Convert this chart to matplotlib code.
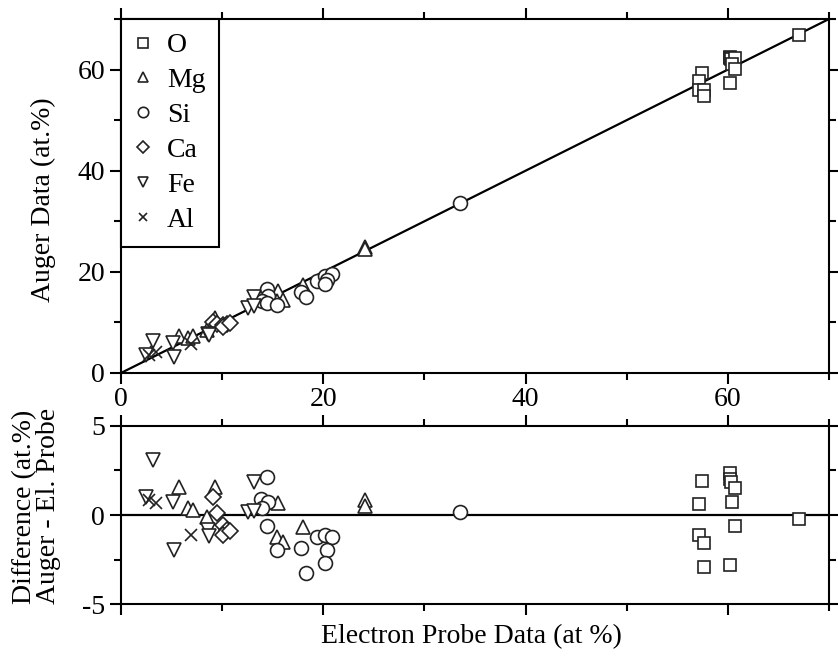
import matplotlib
matplotlib.use('Agg')
import matplotlib.pyplot as plt
from matplotlib.ticker import MultipleLocator
import numpy as np

# electron probe values (x) and Auger - electron probe differences (at.%)
ep_o = [57.4, 57.1, 57.1, 57.6, 57.6, 60.2, 60.2, 60.3, 60.7, 60.4, 60.7, 60.2, 67.0]
diff_o = [1.9, 0.6, -1.1, -1.6, -2.9, 2.35, 2.0, 1.85, 1.5, 0.75, -0.6, -2.8, -0.2]

ep_mg = [5.7, 6.6, 7.1, 9.3, 8.5, 15.5, 15.4, 16.0, 18.0, 24.1, 24.1]
diff_mg = [1.6, 0.4, 0.3, 1.55, -0.1, 0.65, -1.25, -1.5, -0.65, 0.85, 0.5]

ep_si = [14.4, 13.8, 14.5, 13.9, 14.4, 15.4, 17.8, 18.3, 19.4, 20.2, 20.9, 20.4, 20.2, 33.5]
diff_si = [2.15, 0.9, 0.75, 0.4, -0.6, -1.95, -1.85, -3.25, -1.25, -1.1, -1.25, -1.95, -2.7, 0.15]

ep_ca = [9.1, 9.5, 10.1, 10.5, 10.1, 10.8]
diff_ca = [1.0, 0.1, -0.55, -0.85, -1.1, -0.9]

ep_fe = [3.2, 2.5, 5.1, 5.2, 8.6, 8.7, 13.1, 12.6, 13.1]
diff_fe = [3.1, 1.0, 0.75, -1.95, -0.85, -1.2, 1.85, 0.15, 0.2]

ep_al = [2.8, 3.5, 6.9]
diff_al = [0.85, 0.7, -1.1]

elements = ['O', 'Mg', 'Si', 'Ca', 'Fe', 'Al']
ep_values = [ep_o, ep_mg, ep_si, ep_ca, ep_fe, ep_al]
diff_values = [diff_o, diff_mg, diff_si, diff_ca, diff_fe, diff_al]
markers = ['s', '^', 'o', 'D', 'v', 'x']
msizes = [9, 10, 10, 8.5, 10, 8]   # marker size per element

plt.rcParams['font.family'] = ['Liberation Serif', 'DejaVu Serif']
plt.rcParams['font.size'] = 20
plt.rcParams['axes.unicode_minus'] = False
plt.rcParams['axes.linewidth'] = 1.5

fig = plt.figure(figsize=(8.38, 6.62), dpi=100)
ax1 = fig.add_axes([0.1444, 0.4366, 0.8449, 0.5347])
ax2 = fig.add_axes([0.1444, 0.0876, 0.8449, 0.2689])

ink = '#222222'
for name, ep, d, m, ms in zip(elements, ep_values, diff_values, markers, msizes):
    ep = np.array(ep)
    d = np.array(d)
    auger = ep + d
    style = dict(linestyle='none', marker=m, markersize=ms, markerfacecolor='white',
                 markeredgecolor=ink, markeredgewidth=1.2, color=ink)
    if m == 'x':
        style['markerfacecolor'] = ink
    ax1.plot(ep, auger, label=name, **style)
    ax2.plot(ep, d, **style)

ax1.plot([0, 70], [0, 70], color='black', linewidth=1.6, zorder=1)
ax2.axhline(0, color='black', linewidth=1.6, zorder=1)

ax1.set_xlim(0, 70)
ax1.set_ylim(0, 70)
ax2.set_xlim(0, 70)
ax2.set_ylim(-5, 5)

for ax in (ax1, ax2):
    ax.xaxis.set_major_locator(MultipleLocator(20))
    ax.xaxis.set_minor_locator(MultipleLocator(10))
    ax.tick_params(which='both', direction='out', top=True, right=True, width=1.5)
    ax.tick_params(which='major', length=8)
    ax.tick_params(which='minor', length=5)
ax1.yaxis.set_major_locator(MultipleLocator(20))
ax1.yaxis.set_minor_locator(MultipleLocator(10))
ax2.yaxis.set_major_locator(MultipleLocator(5))
ax2.yaxis.set_minor_locator(MultipleLocator(2.5))
ax2.tick_params(labelbottom=False)
ax1.tick_params(axis='x', pad=2)

leg = ax1.legend(loc='upper left', bbox_to_anchor=(0, 1), borderaxespad=0,
                 fancybox=False, framealpha=1, edgecolor='black',
                 handlelength=0.6, handletextpad=0.55, labelspacing=0.34,
                 borderpad=0.5, markerscale=0.75, fontsize=20)
leg.get_frame().set_linewidth(1.5)

fig.text(0.052, 0.698, 'Auger Data (at.%)', rotation=90, ha='center', va='center')
fig.text(0.044, 0.235, 'Difference (at.%)\nAuger - El. Probe', rotation=90,
         ha='center', va='center', linespacing=0.95)
fig.text(0.563, 0.039, 'Electron Probe Data (at %)', ha='center', va='center')

plt.savefig('out.png', dpi=100)
